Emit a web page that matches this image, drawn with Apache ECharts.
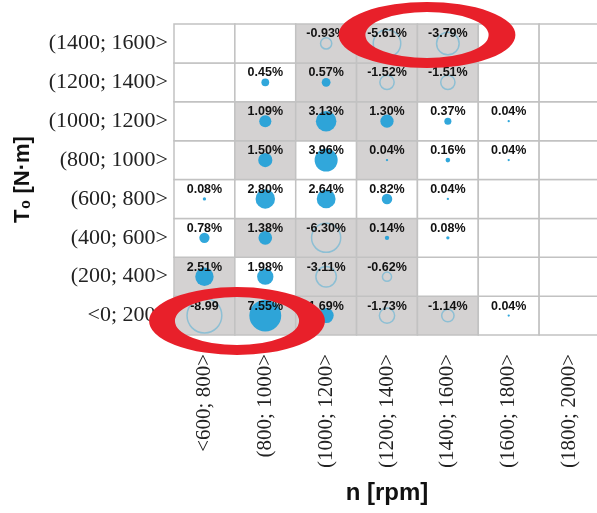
<!DOCTYPE html>
<html>
<head>
<meta charset="utf-8">
<script src="https://cdn.jsdelivr.net/npm/echarts@6/dist/echarts.min.js"></script>
<style>
  html, body { margin: 0; padding: 0; background: #fff; }
  #main { width: 597px; height: 513px; }
</style>
</head>
<body>
<div id="main"></div>
<script>
// speed bins (x) and torque bins (y, bottom -> top)
var nBins = ['<600; 800>', '(800; 1000>', '(1000; 1200>', '(1200; 1400>', '(1400; 1600>', '(1600; 1800>', '(1800; 2000>'];
var tBins = ['<0; 200>', '(200; 400>', '(400; 600>', '(600; 800>', '(800; 1000>', '(1000; 1200>', '(1200; 1400>', '(1400; 1600>'];

// relative change [%] per cell, rows follow tBins
var row0 = [-8.99, 7.55, 1.69, -1.73, -1.14, 0.04, null];
var row1 = [2.51, 1.98, -3.11, -0.62, null, null, null];
var row2 = [0.78, 1.38, -6.30, 0.14, 0.08, null, null];
var row3 = [0.08, 2.80, 2.64, 0.82, 0.04, null, null];
var row4 = [null, 1.50, 3.96, 0.04, 0.16, 0.04, null];
var row5 = [null, 1.09, 3.13, 1.30, 0.37, 0.04, null];
var row6 = [null, 0.45, 0.57, -1.52, -1.51, null, null];
var row7 = [null, null, -0.93, -5.61, -3.79, null, null];
var values = [row0, row1, row2, row3, row4, row5, row6, row7];

// grey shaded cells (1 = shaded)
var shade0 = [1, 1, 1, 1, 1, 0, 0];
var shade1 = [1, 0, 1, 1, 0, 0, 0];
var shade2 = [0, 1, 1, 1, 0, 0, 0];
var shade3 = [0, 0, 0, 0, 0, 0, 0];
var shade4 = [0, 1, 0, 1, 0, 0, 0];
var shade5 = [0, 1, 1, 1, 0, 0, 0];
var shade6 = [0, 0, 1, 1, 1, 0, 0];
var shade7 = [0, 0, 1, 1, 1, 0, 0];
var shades = [shade0, shade1, shade2, shade3, shade4, shade5, shade6, shade7];

// labels printed without the % sign in the source
var noPercent = ['0,0'];

var cellData = [];
var bubbleData = [];
var labelData = [];
for (var j = 0; j < tBins.length; j++) {
    for (var i = 0; i < nBins.length; i++) {
        cellData.push([i, j, shades[j][i]]);
        var v = values[j][i];
        if (v === null) continue;
        var pos = v >= 0;
        bubbleData.push({
            value: [i, j, v],
            symbolSize: 11.6 * Math.sqrt(Math.abs(v)),
            itemStyle: pos ? {
                color: '#1f9fd8', borderWidth: 0, opacity: 0.92
            } : {
                color: 'rgba(0,0,0,0)', borderColor: '#8dbfd4', borderWidth: 1.5, opacity: 1
            }
        });
        var txt = v.toFixed(2) + (noPercent.indexOf(i + ',' + j) >= 0 ? '' : '%');
        labelData.push([i, j, txt]);
    }
}

var chart = echarts.init(document.getElementById('main'));

var option = {
    animation: false,
    backgroundColor: '#fff',
    grid: { left: 174, top: 24, width: 426, height: 311, outerBoundsMode: 'none', containLabel: false },
    xAxis: {
        type: 'category',
        data: nBins,
        axisLine: { show: false },
        axisTick: { show: false },
        splitLine: { show: false },
        axisLabel: {
            rotate: 90,
            margin: 19,
            fontFamily: 'Liberation Serif',
            fontSize: 21,
            color: '#222'
        },
        name: 'n [rpm]',
        nameLocation: 'middle',
        nameGap: 146,
        nameTextStyle: { fontFamily: 'Liberation Sans', fontWeight: 'bold', fontSize: 24, color: '#111' }
    },
    yAxis: {
        type: 'category',
        data: tBins,
        axisLine: { show: false },
        axisTick: { show: false },
        splitLine: { show: false },
        axisLabel: {
            margin: 6,
            fontFamily: 'Liberation Serif',
            fontSize: 22,
            color: '#222'
        },
        name: 'T\u2080 [N\u00b7m]',
        nameLocation: 'middle',
        nameRotate: 90,
        nameGap: 140,
        nameTextStyle: { fontFamily: 'Liberation Sans', fontWeight: 'bold', fontSize: 22, color: '#111' }
    },
    series: [
        {
            type: 'custom',
            data: cellData,
            z: 1,
            renderItem: function (params, api) {
                var c = api.coord([api.value(0), api.value(1)]);
                var s = api.size([1, 1]);
                return {
                    type: 'rect',
                    shape: { x: c[0] - s[0] / 2, y: c[1] - s[1] / 2, width: s[0], height: s[1] },
                    style: {
                        fill: api.value(2) ? '#d4d2d2' : '#ffffff',
                        stroke: '#c2c2c2',
                        lineWidth: 1.5
                    }
                };
            }
        },
        {
            type: 'scatter',
            data: bubbleData,
            z: 2,
            symbol: 'circle'
        },
        {
            type: 'custom',
            data: labelData,
            z: 3,
            renderItem: function (params, api) {
                var c = api.coord([api.value(0), api.value(1)]);
                var s = api.size([1, 1]);
                return {
                    type: 'text',
                    style: {
                        x: c[0],
                        y: c[1] - s[1] / 2 + 10,
                        text: labelData[params.dataIndex][2],
                        align: 'center',
                        verticalAlign: 'middle',
                        fontFamily: 'Liberation Sans',
                        fontWeight: 'bold',
                        fontSize: 12.5,
                        fill: '#111'
                    }
                };
            }
        }
    ],
    // red hand-drawn highlight rings
    graphic: [
        {
            type: 'circle',
            shape: { cx: 0, cy: 0, r: 28 },
            x: 427, y: 35,
            scaleX: 75 / 28, scaleY: 1,
            style: { fill: 'none', stroke: '#e8202a', lineWidth: 10 },
            z: 100
        },
        {
            type: 'circle',
            shape: { cx: 0, cy: 0, r: 29 },
            x: 237, y: 321,
            scaleX: 75 / 29, scaleY: 1,
            style: { fill: 'none', stroke: '#e8202a', lineWidth: 10 },
            z: 100
        }
    ]
};

chart.setOption(option);
</script>
</body>
</html>
